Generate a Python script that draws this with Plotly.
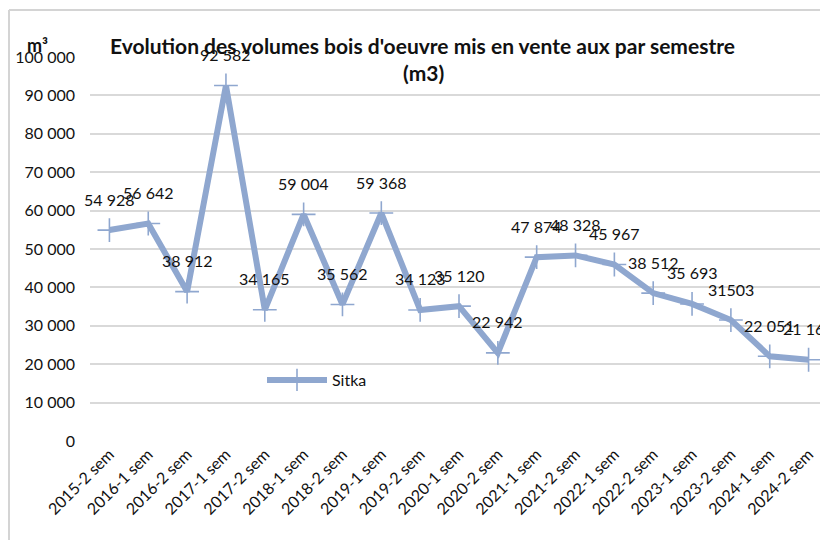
import plotly.graph_objects as go

categories = ["2015-2 sem", "2016-1 sem", "2016-2 sem", "2017-1 sem", "2017-2 sem",
              "2018-1 sem", "2018-2 sem", "2019-1 sem", "2019-2 sem", "2020-1 sem",
              "2020-2 sem", "2021-1 sem", "2021-2 sem", "2022-1 sem", "2022-2 sem",
              "2023-1 sem", "2023-2 sem", "2024-1 sem", "2024-2 sem"]
sitka = [54928, 56642, 38912, 92582, 34165, 59004, 35562, 59368, 34123, 35120,
         22942, 47874, 48328, 45967, 38512, 35693, 31503, 22051, 21162]
point_labels = ["54 928", "56 642", "38 912", "92 582", "34 165", "59 004", "35 562",
                "59 368", "34 123", "35 120", "22 942", "47 874", "48 328", "45 967",
                "38 512", "35 693", "31503", "22 051", "21 162"]
y_ticks = [0, 10000, 20000, 30000, 40000, 50000, 60000, 70000, 80000, 90000, 100000]
y_tick_text = ["0", "10 000", "20 000", "30 000", "40 000", "50 000", "60 000",
               "70 000", "80 000", "90 000", "100 000"]

# the page body adds an 8px offset; the figure is sized to fit the window
OFF = 8
W, H = 820, 532
ML, MR, MT, MB = 82, 0, 49, 99
PW, PH = W - ML - MR, H - MT - MB

def px_x(px):
    return (px - OFF - ML) / PW

def px_y(py):
    return (H - MB - (py - OFF)) / PH

LINE = "rgb(143,167,207)"
FONT = "Lato"
TXT = "#111111"

fig = go.Figure()
fig.add_trace(go.Scatter(
    x=categories, y=sitka, name="Sitka", mode="lines+markers",
    line=dict(color=LINE, width=6),
    marker=dict(symbol="cross-thin", size=17, line=dict(color=LINE, width=1.6), color=LINE),
))

annotations = []
for c, v, t in zip(categories, sitka, point_labels):
    annotations.append(dict(x=c, y=v, xref="x", yref="y", text=t, showarrow=False,
                            yshift=31, font=dict(family=FONT, size=16, color=TXT)))

annotations.append(dict(x=px_x(422), y=px_y(45), xref="paper", yref="paper",
                        text="<b>Evolution des volumes bois d'oeuvre mis en vente aux par semestre</b>",
                        showarrow=False, xanchor="center", yanchor="middle",
                        font=dict(family=FONT, size=21, color=TXT)))
annotations.append(dict(x=px_x(423), y=px_y(72), xref="paper", yref="paper",
                        text="<b>(m3)</b>", showarrow=False, xanchor="center", yanchor="middle",
                        font=dict(family=FONT, size=21, color=TXT)))
annotations.append(dict(x=px_x(37), y=px_y(45), xref="paper", yref="paper",
                        text="<b>m³</b>", showarrow=False, xanchor="center", yanchor="middle",
                        font=dict(family=FONT, size=18, color=TXT)))

shapes = [
    dict(type="line", xref="paper", yref="paper", x0=px_x(9), x1=px_x(9), y0=px_y(10), y1=px_y(545),
         line=dict(color="#d4d4d4", width=2)),
    dict(type="line", xref="paper", yref="paper", x0=px_x(9), x1=px_x(835), y0=px_y(10), y1=px_y(10),
         line=dict(color="#d4d4d4", width=2)),
]

fig.update_layout(
    width=W, height=H,
    margin=dict(l=ML, r=MR, t=MT, b=MB, autoexpand=False),
    paper_bgcolor="white", plot_bgcolor="white",
    font=dict(family=FONT, size=16, color=TXT),
    showlegend=True,
    legend=dict(x=px_x(262), y=px_y(380), xanchor="left", yanchor="middle", itemwidth=60,
                bgcolor="rgba(0,0,0,0)", font=dict(family=FONT, size=16, color=TXT)),
    annotations=annotations,
    shapes=shapes,
    xaxis=dict(type="category", range=[-0.5, len(categories) - 0.5], showgrid=False,
               showline=False, zeroline=False, ticks="", tickangle=-45,
               tickfont=dict(family=FONT, size=16, color=TXT)),
    yaxis=dict(range=[0, 100000], tickvals=y_ticks, ticktext=y_tick_text,
               showgrid=True, gridcolor="#d9d9d9", gridwidth=2, zeroline=False,
               showline=False, ticks="", ticklabelstandoff=14,
               tickfont=dict(family=FONT, size=16, color=TXT)),
)

fig.write_html("out.html")
